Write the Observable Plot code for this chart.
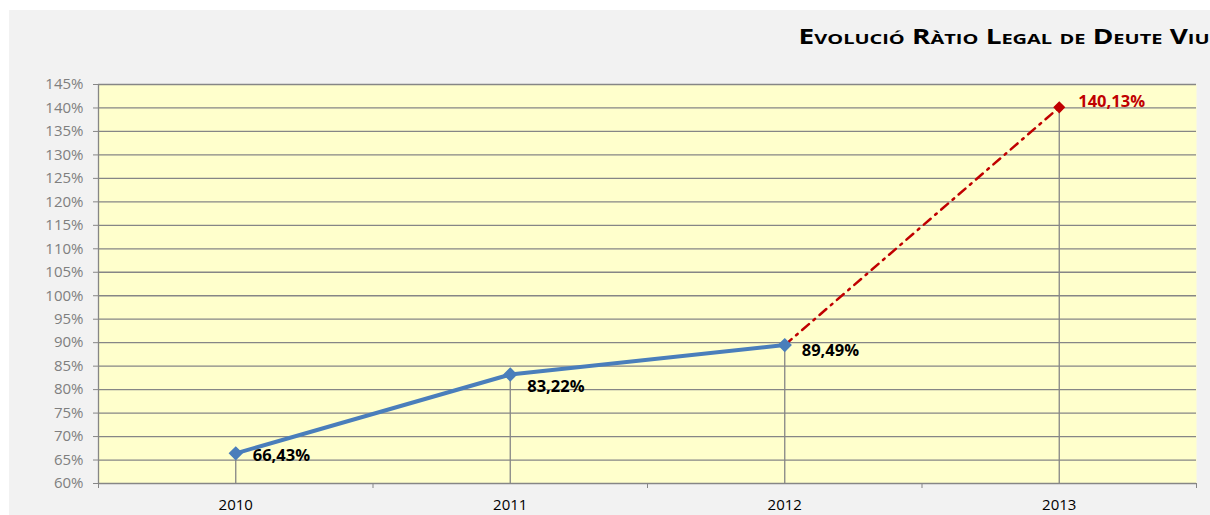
<!DOCTYPE html>
<html>
<head>
<meta charset="utf-8">
<script src="https://cdn.jsdelivr.net/npm/d3@7"></script>
<script src="https://cdn.jsdelivr.net/npm/@observablehq/plot@0.6"></script>
<style>
  html, body { margin: 0; padding: 0; background: #ffffff; }
  #wrap { position: relative; width: 1210px; height: 515px; overflow: hidden; }
  #bg { position: absolute; left: 9px; top: 10px; right: 0; bottom: 0; background: #f2f2f2; }
  #chart { position: absolute; left: 0; top: 0; }
  #title {
    position: absolute; right: 0px; top: 26px;
    font-family: "Open Sans", sans-serif; font-weight: 700; font-size: 21px;
    font-variant: small-caps; color: #000; white-space: nowrap; line-height: 1;
    transform-origin: right center;
  }
</style>
</head>
<body>
<div id="wrap">
  <div id="bg"></div>
  <div id="chart"></div>
  <div id="title">Evolució Ràtio Legal de Deute Viu</div>
</div>
<script>
// Data
const years = ["2010", "2011", "2012", "2013"];
const ratio = [66.43, 83.22, 89.49, 140.13];
const labels = ["66,43%", "83,22%", "89,49%", "140,13%"];
const projected = [false, false, false, true];
const yTicks = d3.range(60, 146, 5);

const rows = years.map((y, i) => ({i, year: y, v: ratio[i], label: labels[i], proj: projected[i]}));
const actual = rows.filter(d => !d.proj);
const projLine = rows.slice(rows.findIndex(d => d.proj) - 1);
const projPts = rows.filter(d => d.proj);

const xc = d => d.i + 0.5;
const grid = "#868686";
const font = "Open Sans, sans-serif";

const plot = Plot.plot({
  width: 1210,
  height: 515,
  marginLeft: 98,
  marginRight: 14,
  marginTop: 84,
  marginBottom: 32,
  style: {background: "transparent", fontFamily: font},
  x: {domain: [0, years.length]},
  y: {domain: [60, 145]},
  marks: [
    Plot.frame({fill: "#ffffcc", stroke: null}),
    Plot.ruleY(yTicks, {stroke: grid, strokeWidth: 1.3}),
    Plot.ruleX([0], {stroke: grid, strokeWidth: 1.3}),
    Plot.ruleX(rows, {x: xc, y1: 60, y2: "v", stroke: grid, strokeWidth: 1.3}),
    Plot.axisY({ticks: yTicks, tickSize: 5, tickPadding: 10, tickFormat: d => d + "%",
      stroke: grid, fill: "#7f7f7f", fontSize: 15, label: null}),
    Plot.axisX({ticks: d3.range(0, years.length + 1), tickSize: 5, tickFormat: () => "",
      stroke: grid, label: null}),
    Plot.axisX({ticks: years.map((_, i) => i + 0.5), tickSize: 0, tickPadding: 16,
      tickFormat: t => years[Math.round(t - 0.5)], fill: "#000", fontSize: 15, label: null}),
    Plot.line(projLine, {x: xc, y: "v", stroke: "#c00000", strokeWidth: 2.5, strokeDasharray: "9,6,2,6"}),
    Plot.line(actual, {x: xc, y: "v", stroke: "#4a7ebb", strokeWidth: 4}),
    Plot.dot(actual, {x: xc, y: "v", symbol: "diamond2", r: 5.5, fill: "#4a7ebb", stroke: "#4a7ebb"}),
    Plot.dot(projPts, {x: xc, y: "v", symbol: "diamond2", r: 4.5, fill: "#c00000", stroke: "#c00000"}),
    Plot.text(actual.slice(0, 1), {x: xc, y: "v", text: "label", textAnchor: "start", dx: 17, dy: 2,
      fill: "#000", fontWeight: 700, fontSize: 16.5}),
    Plot.text(actual.slice(1, 2), {x: xc, y: "v", text: "label", textAnchor: "start", dx: 17, dy: 12,
      fill: "#000", fontWeight: 700, fontSize: 16.5}),
    Plot.text(actual.slice(2, 3), {x: xc, y: "v", text: "label", textAnchor: "start", dx: 17, dy: 6,
      fill: "#000", fontWeight: 700, fontSize: 16.5}),
    Plot.text(projPts, {x: xc, y: "v", text: "label", textAnchor: "start", dx: 19, dy: -6,
      fill: "#c00000", fontWeight: 700, fontSize: 16.5})
  ]
});
document.getElementById("chart").appendChild(plot);

// Stretch title horizontally so it spans the same width as the reference heading
const title = document.getElementById("title");
const r0 = title.getBoundingClientRect();
title.style.transform = `scaleX(${411 / r0.width})`;
</script>
</body>
</html>
